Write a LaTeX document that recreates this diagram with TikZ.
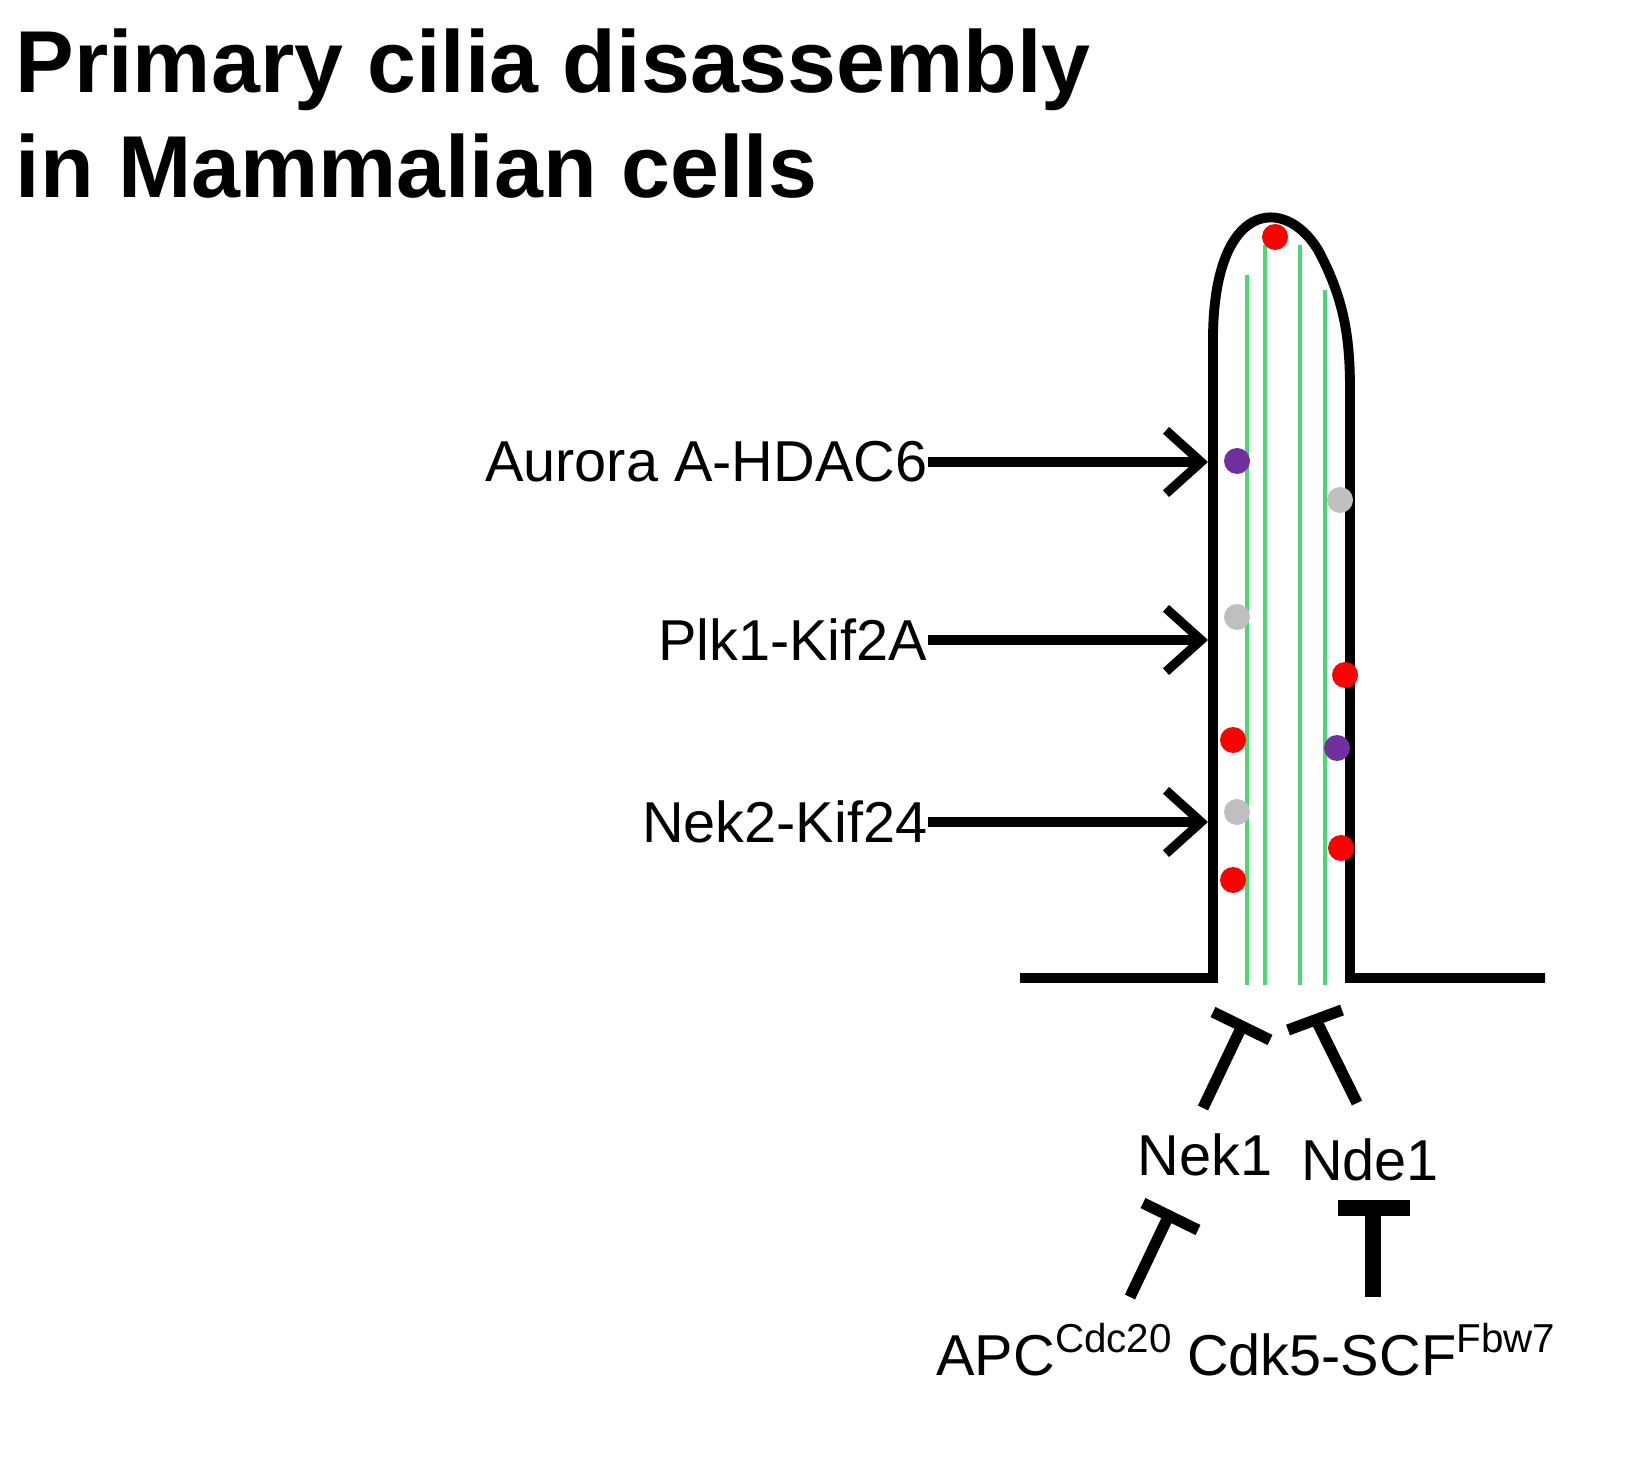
\documentclass[tikz,border=0pt]{standalone}
\usepackage{fontspec}
\setmainfont{Liberation Sans}
\usetikzlibrary{arrows.meta}
\begin{document}
\begin{tikzpicture}[x=0.01cm,y=-0.01cm,
 lbl/.style={font=\fontsize{16.4}{20}\selectfont,inner sep=0pt},
 act/.style={line width=2.6pt,-{Straight Barb[length=10pt,width=18pt,line width=2.6pt]}},
 inh/.style={line width=3.2pt},
 mt/.style={draw=green!55!teal!70,line width=1.3pt}]
\useasboundingbox (0,0) rectangle (1645,1458);
\node[anchor=north west,align=left,font=\bfseries\fontsize{25}{30}\selectfont,inner sep=0pt] (title) at (15,28) {Primary cilia disassembly\\in Mammalian cells};
% microtubules
\foreach \x/\t in {1247/275,1265/245,1300/245,1325/290} \draw[mt] (\x,\t) -- (\x,985);
% membrane
\draw[line width=2.8pt] (1020,978) -- (1213,978) -- (1213,340) .. controls (1213,200) and (1285,195) .. (1318,250) .. controls (1345,300) and (1350,340) .. (1350,390) -- (1350,978) -- (1545,978);
% dots
\definecolor{pur}{RGB}{112,48,160}
\foreach \x/\y/\c in {1275/237/red,1237/461/pur,1340/500/lightgray,1237/617/lightgray,1345/675/red,1233/740/red,1337/748/pur,1237/812/lightgray,1341/848/red,1233/880/red}
  \fill[\c] (\x,\y) circle[radius=13];
% activators
\node[lbl,anchor=east] (aur) at (928,462) {Aurora A-HDAC6};
\node[lbl,anchor=east] (plk) at (928,640) {Plk1-Kif2A};
\node[lbl,anchor=east] (nek2) at (928,822) {Nek2-Kif24};
\coordinate (t1) at (1208,462); \coordinate (t2) at (1208,640); \coordinate (t3) at (1208,822);
\draw[act] (aur) -- (t1); \draw[act] (plk) -- (t2); \draw[act] (nek2) -- (t3);
% inhibitors
\node[lbl] (nek1) at (1205,1155) {Nek1};
\node[lbl] (nde1) at (1370,1160) {Nde1};
\node[lbl,anchor=base] (apc) at (1055,1375) {APC\textsuperscript{Cdc20}};
\node[lbl,anchor=base] (cdk) at (1372,1375) {Cdk5-SCF\textsuperscript{Fbw7}};
\coordinate (a1) at (1203,1108); \coordinate (b1) at (1242,1026);
\draw[inh] (a1) -- (b1); \draw[inh] (1213,1012) -- (1270,1040);
\coordinate (a2) at (1357,1103); \coordinate (b2) at (1317,1022);
\draw[inh] (a2) -- (b2); \draw[inh] (1288,1030) -- (1342,1010);
\coordinate (a3) at (1130,1297); \coordinate (b3) at (1170,1213);
\draw[inh] (a3) -- (b3); \draw[inh] (1143,1203) -- (1198,1230);
\coordinate (a4) at (1373,1297); \coordinate (b4) at (1373,1208);
\draw[line width=4.5pt] (a4) -- (b4); \draw[line width=4.5pt] (1338,1208) -- (1410,1208);
\end{tikzpicture}
\end{document}
